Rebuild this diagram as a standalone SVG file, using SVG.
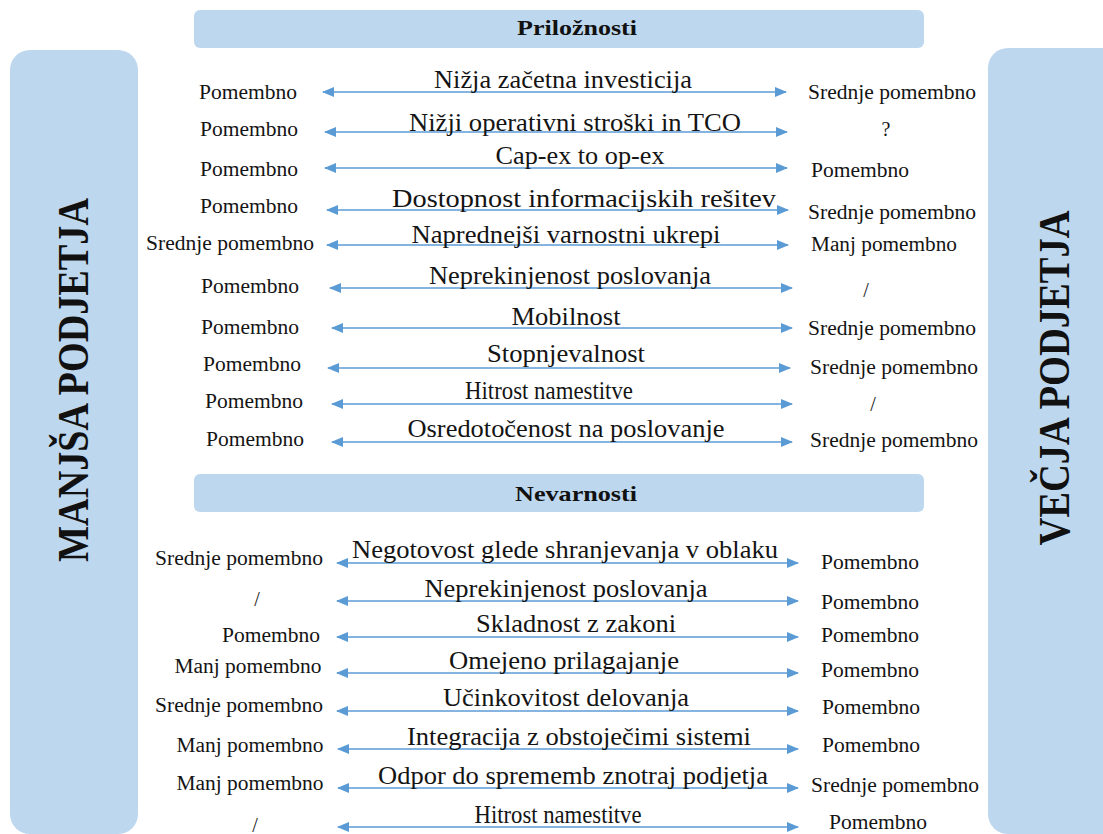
<svg xmlns="http://www.w3.org/2000/svg" width="1103" height="834" viewBox="0 0 1103 834">
  <style>
    .panel { fill: #BDD7EE; }
    .bar { fill: #BDD7EE; }
    .head { font-family: "Liberation Serif", "Times New Roman", serif; font-weight: bold; font-size: 22px; fill: #111; text-anchor: middle; }
    .side { font-family: "Liberation Serif", "Times New Roman", serif; font-weight: bold; font-size: 45px; fill: #111; text-anchor: middle; }
    .mid { font-family: "Liberation Serif", "Times New Roman", serif; font-size: 25px; fill: #141414; text-anchor: middle; }
    .lab { font-family: "Liberation Serif", "Times New Roman", serif; font-size: 20px; fill: #141414; text-anchor: middle; }
    .conn line { stroke: #5B9BD5; stroke-width: 1.6; marker-start: url(#ah); marker-end: url(#ah); }
  </style>
  <defs>
    <marker id="ah" viewBox="0 0 12 10" refX="11" refY="5" markerWidth="12" markerHeight="10" markerUnits="userSpaceOnUse" orient="auto-start-reverse">
      <path d="M0,0 L12,5 L0,10 z" fill="#5B9BD5"/>
    </marker>
  </defs>

  <rect width="1103" height="834" fill="#ffffff"/>

  <!-- side panels -->
  <g id="manjsa-podjetja">
    <rect class="panel" x="10" y="50" width="128" height="784" rx="20"/>
    <text class="side" transform="translate(88,380) rotate(-90)" textLength="364" lengthAdjust="spacingAndGlyphs">MANJŠA PODJETJA</text>
  </g>
  <g id="vecja-podjetja">
    <rect class="panel" x="988" y="48" width="140" height="786" rx="20"/>
    <text class="side" transform="translate(1069,378) rotate(-90)" textLength="335" lengthAdjust="spacingAndGlyphs">VEČJA PODJETJA</text>
  </g>

  <!-- section headers -->
  <g id="prilooznosti">
    <rect class="bar" x="194" y="10" width="730" height="38" rx="6"/>
    <text class="head" x="577" y="35" textLength="120" lengthAdjust="spacingAndGlyphs">Priložnosti</text>
  </g>
  <g id="nevarnosti">
    <rect class="bar" x="194" y="474" width="730" height="38" rx="6"/>
    <text class="head" x="576" y="501" textLength="122" lengthAdjust="spacingAndGlyphs">Nevarnosti</text>
  </g>

  <!-- double-headed connectors -->
  <g id="connectors" class="conn">
    <line x1="323" y1="92" x2="786" y2="92"/>
    <line x1="325" y1="132" x2="787" y2="132"/>
    <line x1="325" y1="168" x2="787" y2="168"/>
    <line x1="327" y1="210" x2="788" y2="210"/>
    <line x1="327" y1="245" x2="788" y2="245"/>
    <line x1="330" y1="288" x2="792" y2="288"/>
    <line x1="332" y1="328" x2="792" y2="328"/>
    <line x1="328" y1="368" x2="790" y2="368"/>
    <line x1="332" y1="404" x2="792" y2="404"/>
    <line x1="332" y1="442" x2="792" y2="442"/>

    <line x1="337" y1="563" x2="798" y2="563"/>
    <line x1="337" y1="601" x2="798" y2="601"/>
    <line x1="337" y1="637" x2="798" y2="637"/>
    <line x1="337" y1="673" x2="798" y2="673"/>
    <line x1="337" y1="711" x2="798" y2="711"/>
    <line x1="338" y1="749" x2="798" y2="749"/>
    <line x1="338" y1="788" x2="798" y2="788"/>
    <line x1="338" y1="827" x2="798" y2="827"/>
  </g>

  <!-- opportunities -->
  <g id="o1">
    <text class="mid" x="563" y="88" textLength="258" lengthAdjust="spacingAndGlyphs">Nižja začetna investicija</text>
    <text class="lab" x="248" y="99" textLength="98" lengthAdjust="spacingAndGlyphs">Pomembno</text>
    <text class="lab" x="892" y="99" textLength="168" lengthAdjust="spacingAndGlyphs">Srednje pomembno</text>
  </g>
  <g id="o2">
    <text class="mid" x="575" y="131" textLength="332" lengthAdjust="spacingAndGlyphs">Nižji operativni stroški in TCO</text>
    <text class="lab" x="249" y="136" textLength="98" lengthAdjust="spacingAndGlyphs">Pomembno</text>
    <text class="lab" x="886" y="136">?</text>
  </g>
  <g id="o3">
    <text class="mid" x="580" y="164" textLength="169" lengthAdjust="spacingAndGlyphs">Cap-ex to op-ex</text>
    <text class="lab" x="249" y="176" textLength="98" lengthAdjust="spacingAndGlyphs">Pomembno</text>
    <text class="lab" x="860" y="177" textLength="98" lengthAdjust="spacingAndGlyphs">Pomembno</text>
  </g>
  <g id="o4">
    <text class="mid" x="584" y="207" textLength="384" lengthAdjust="spacingAndGlyphs">Dostopnost informacijskih rešitev</text>
    <text class="lab" x="249" y="213" textLength="98" lengthAdjust="spacingAndGlyphs">Pomembno</text>
    <text class="lab" x="892" y="219" textLength="168" lengthAdjust="spacingAndGlyphs">Srednje pomembno</text>
  </g>
  <g id="o5">
    <text class="mid" x="566" y="243" textLength="309" lengthAdjust="spacingAndGlyphs">Naprednejši varnostni ukrepi</text>
    <text class="lab" x="230" y="250" textLength="168" lengthAdjust="spacingAndGlyphs">Srednje pomembno</text>
    <text class="lab" x="884" y="251" textLength="146" lengthAdjust="spacingAndGlyphs">Manj pomembno</text>
  </g>
  <g id="o6">
    <text class="mid" x="570" y="284" textLength="282" lengthAdjust="spacingAndGlyphs">Neprekinjenost poslovanja</text>
    <text class="lab" x="250" y="293" textLength="98" lengthAdjust="spacingAndGlyphs">Pomembno</text>
    <text class="lab" x="866" y="297">/</text>
  </g>
  <g id="o7">
    <text class="mid" x="566" y="325" textLength="109" lengthAdjust="spacingAndGlyphs">Mobilnost</text>
    <text class="lab" x="250" y="334" textLength="98" lengthAdjust="spacingAndGlyphs">Pomembno</text>
    <text class="lab" x="892" y="335" textLength="168" lengthAdjust="spacingAndGlyphs">Srednje pomembno</text>
  </g>
  <g id="o8">
    <text class="mid" x="566" y="362" textLength="158" lengthAdjust="spacingAndGlyphs">Stopnjevalnost</text>
    <text class="lab" x="252" y="371" textLength="98" lengthAdjust="spacingAndGlyphs">Pomembno</text>
    <text class="lab" x="894" y="374" textLength="168" lengthAdjust="spacingAndGlyphs">Srednje pomembno</text>
  </g>
  <g id="o9">
    <text class="mid" x="549" y="399" textLength="168" lengthAdjust="spacingAndGlyphs">Hitrost namestitve</text>
    <text class="lab" x="254" y="408" textLength="98" lengthAdjust="spacingAndGlyphs">Pomembno</text>
    <text class="lab" x="873" y="411">/</text>
  </g>
  <g id="o10">
    <text class="mid" x="566" y="437" textLength="317" lengthAdjust="spacingAndGlyphs">Osredotočenost na poslovanje</text>
    <text class="lab" x="255" y="446" textLength="98" lengthAdjust="spacingAndGlyphs">Pomembno</text>
    <text class="lab" x="894" y="447" textLength="168" lengthAdjust="spacingAndGlyphs">Srednje pomembno</text>
  </g>

  <!-- threats -->
  <g id="n1">
    <text class="mid" x="565" y="558" textLength="426" lengthAdjust="spacingAndGlyphs">Negotovost glede shranjevanja v oblaku</text>
    <text class="lab" x="239" y="565" textLength="168" lengthAdjust="spacingAndGlyphs">Srednje pomembno</text>
    <text class="lab" x="870" y="569" textLength="98" lengthAdjust="spacingAndGlyphs">Pomembno</text>
  </g>
  <g id="n2">
    <text class="mid" x="566" y="597" textLength="283" lengthAdjust="spacingAndGlyphs">Neprekinjenost poslovanja</text>
    <text class="lab" x="257" y="606">/</text>
    <text class="lab" x="870" y="609" textLength="98" lengthAdjust="spacingAndGlyphs">Pomembno</text>
  </g>
  <g id="n3">
    <text class="mid" x="576" y="632" textLength="200" lengthAdjust="spacingAndGlyphs">Skladnost z zakoni</text>
    <text class="lab" x="271" y="642" textLength="98" lengthAdjust="spacingAndGlyphs">Pomembno</text>
    <text class="lab" x="870" y="642" textLength="98" lengthAdjust="spacingAndGlyphs">Pomembno</text>
  </g>
  <g id="n4">
    <text class="mid" x="564" y="669" textLength="230" lengthAdjust="spacingAndGlyphs">Omejeno prilagajanje</text>
    <text class="lab" x="248" y="673" textLength="147" lengthAdjust="spacingAndGlyphs">Manj pomembno</text>
    <text class="lab" x="870" y="677" textLength="98" lengthAdjust="spacingAndGlyphs">Pomembno</text>
  </g>
  <g id="n5">
    <text class="mid" x="566" y="706" textLength="246" lengthAdjust="spacingAndGlyphs">Učinkovitost delovanja</text>
    <text class="lab" x="239" y="712" textLength="168" lengthAdjust="spacingAndGlyphs">Srednje pomembno</text>
    <text class="lab" x="871" y="714" textLength="98" lengthAdjust="spacingAndGlyphs">Pomembno</text>
  </g>
  <g id="n6">
    <text class="mid" x="579" y="745" textLength="344" lengthAdjust="spacingAndGlyphs">Integracija z obstoječimi sistemi</text>
    <text class="lab" x="250" y="752" textLength="147" lengthAdjust="spacingAndGlyphs">Manj pomembno</text>
    <text class="lab" x="871" y="752" textLength="98" lengthAdjust="spacingAndGlyphs">Pomembno</text>
  </g>
  <g id="n7">
    <text class="mid" x="573" y="784" textLength="390" lengthAdjust="spacingAndGlyphs">Odpor do sprememb znotraj podjetja</text>
    <text class="lab" x="250" y="790" textLength="147" lengthAdjust="spacingAndGlyphs">Manj pomembno</text>
    <text class="lab" x="895" y="792" textLength="168" lengthAdjust="spacingAndGlyphs">Srednje pomembno</text>
  </g>
  <g id="n8">
    <text class="mid" x="558" y="823" textLength="167" lengthAdjust="spacingAndGlyphs">Hitrost namestitve</text>
    <text class="lab" x="255" y="832">/</text>
    <text class="lab" x="878" y="829" textLength="98" lengthAdjust="spacingAndGlyphs">Pomembno</text>
  </g>
</svg>
